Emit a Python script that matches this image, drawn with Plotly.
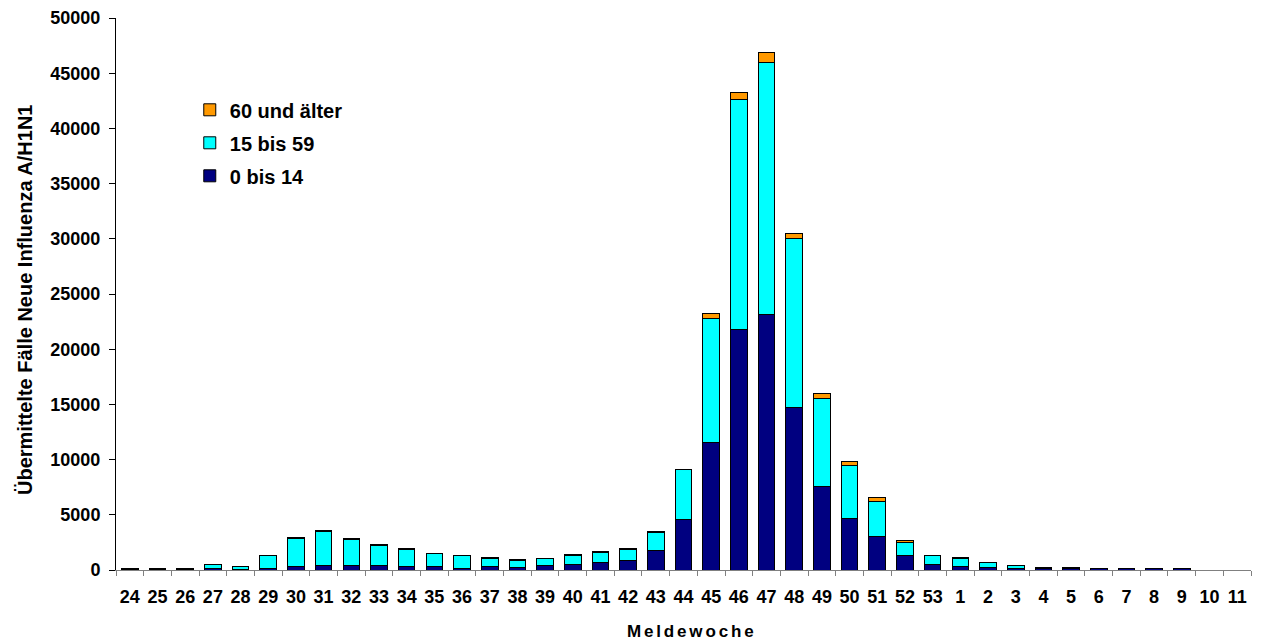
import plotly.graph_objects as go

weeks = [str(w) for w in list(range(24, 54)) + list(range(1, 12))]

age_0_14 = [60, 60, 60, 150, 80, 150, 300, 400, 380, 380, 300, 300, 150, 300, 240, 420,
            540, 670, 900, 1780, 4530, 11590, 21830, 23100, 14700, 7550, 4680, 3080, 1270, 540,
            360, 240, 180, 150, 150, 100, 100, 100, 100, 0, 0]
age_15_59 = [40, 40, 40, 360, 270, 1120, 2590, 3120, 2410, 1870, 1590, 1200, 1140, 750, 650, 600,
             780, 890, 990, 1650, 4550, 11210, 20800, 22910, 15370, 8000, 4830, 3110, 1210, 780,
             690, 410, 230, 100, 100, 60, 60, 60, 60, 0, 0]
age_60 = [5, 5, 5, 20, 10, 20, 30, 30, 30, 30, 20, 20, 20, 100, 20, 30,
          100, 100, 60, 60, 60, 400, 640, 910, 450, 450, 360, 390, 150, 30,
          100, 30, 20, 20, 20, 10, 10, 10, 10, 0, 0]

series_names = ["0 bis 14", "15 bis 59", "60 und älter"]
series_colors = ["#000080", "#00FFFF", "#FF9900"]
legend_ranks = [3, 2, 1]

x_title = "Meldewoche"
y_title = "Übermittelte Fälle Neue Influenza A/H1N1"

font_fam = "Liberation Sans, Arial, sans-serif"
narrow_fam = "Liberation Sans Narrow, Arial Narrow, Liberation Sans, sans-serif"
line = dict(color="black", width=1)

fig = go.Figure()
for name, vals, col, rk in zip(series_names, [age_0_14, age_15_59, age_60], series_colors, legend_ranks):
    fig.add_trace(go.Bar(x=weeks, y=vals, name="<b>" + name + "</b>", legendgroup=name,
                         legendrank=rk,
                         marker=dict(color=col, line=line), width=0.6))

hs = "&#8202;&#8202;"
xtitle_html = "<b>" + hs.join(list(x_title)) + "</b>"

fig.update_layout(
    barmode="stack",
    width=1265, height=642,
    margin=dict(l=116, r=14, t=18, b=72),
    plot_bgcolor="white", paper_bgcolor="white",
    font=dict(family=font_fam, size=18, color="black"),
    legend=dict(x=0.065, y=0.869, xanchor="left", yanchor="top",
                traceorder="grouped", tracegroupgap=4,
                font=dict(family=font_fam, size=20, color="black"),
                bgcolor="rgba(0,0,0,0)"),
    xaxis=dict(type="category", categoryorder="array", categoryarray=weeks,
               automargin=False, tickangle=0,
               showline=True, linecolor="#808080", linewidth=1,
               ticks="outside", tickson="boundaries", ticklen=5, tickcolor="#808080",
               tickfont=dict(family=font_fam, size=18, color="black"),
               ticklabelstandoff=10,
               tickprefix="<b>", ticksuffix="</b>",
               showgrid=False),
    yaxis=dict(range=[0, 50000], dtick=5000, automargin=False,
               showline=True, linecolor="black", linewidth=1,
               ticks="outside", ticklen=6, tickcolor="black",
               tickfont=dict(family=font_fam, size=18, color="black"),
               ticklabelstandoff=5,
               tickprefix="<b>", ticksuffix="</b>",
               showgrid=False, zeroline=False, tickformat="d"),
    annotations=[
        dict(text=xtitle_html, xref="paper", yref="paper",
             x=(690 - 116) / 1135, y=-(631 - 570) / 552, xanchor="center", yanchor="middle",
             showarrow=False, font=dict(family=font_fam, size=17, color="black")),
        dict(text="<b>" + y_title + "</b>", xref="paper", yref="paper", textangle=-90,
             x=(25 - 116) / 1135, y=(570 - 300) / 552, xanchor="center", yanchor="middle",
             showarrow=False, font=dict(family=narrow_fam, size=20, color="black")),
    ],
)

fig.write_html("out.html", config={"displayModeBar": False},
               post_script="document.body.style.margin='0';document.body.style.overflow='hidden';")
